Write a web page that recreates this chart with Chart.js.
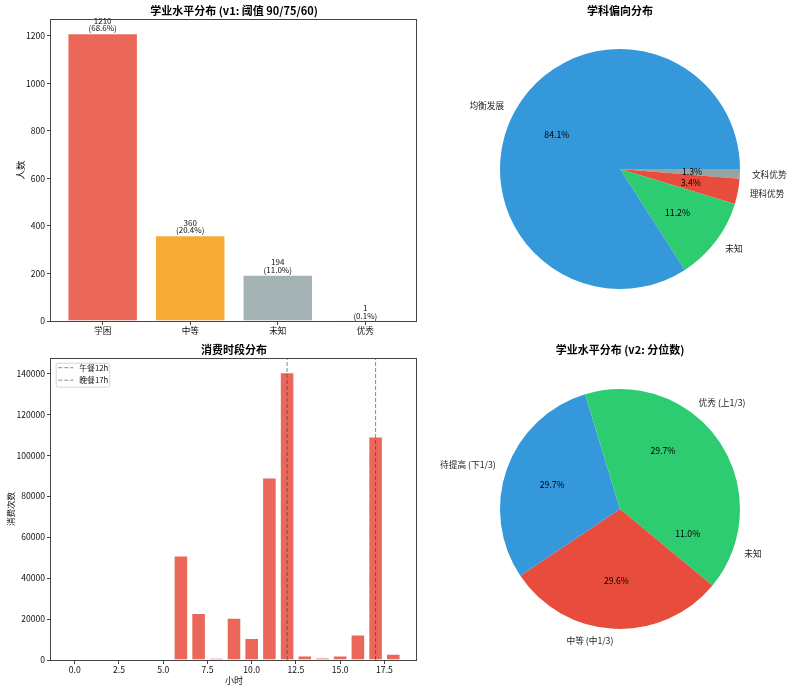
<!DOCTYPE html>
<html>
<head>
<meta charset="utf-8">
<script src="https://cdn.jsdelivr.net/npm/chart.js@4.4.1/dist/chart.umd.min.js"></script>
<style>
body { margin: 0; background: #fff; }
#wrap { position: relative; width: 792px; height: 692px; }
canvas { position: absolute; }
</style>
</head>
<body>
<div id="wrap">
  <canvas id="levelBar" width="420" height="340" style="left:0;top:0"></canvas>
  <canvas id="hourBar" width="420" height="352" style="left:0;top:340px"></canvas>
  <canvas id="biasPie" width="372" height="340" style="left:420px;top:0"></canvas>
  <canvas id="levelPie" width="372" height="352" style="left:420px;top:340px"></canvas>
</div>
<script>
// Data
const levelCats = ['学困', '中等', '未知', '优秀'];
const levelCounts = [1210, 360, 194, 1];
const levelColors = ['#e74c3c', '#f39c12', '#95a5a6', '#2ecc71'];
const levelYTicks = [0, 200, 400, 600, 800, 1000, 1200];

const hours = [0, 1, 2, 3, 4, 5, 6, 7, 8, 9, 10, 11, 12, 13, 14, 15, 16, 17, 18];
const hourCounts = [0, 0, 0, 0, 0, 0, 50900, 22900, 1000, 20500, 10700, 89100, 140500, 2100, 1100, 2100, 12400, 109100, 2900];
const hourXTicks = [0, 2.5, 5, 7.5, 10, 12.5, 15, 17.5];
const hourYTicks = [0, 20000, 40000, 60000, 80000, 100000, 120000, 140000];
const mealHours = [12, 17];
const mealLabels = ['午餐12h', '晚餐17h'];

const biasLabels = ['均衡发展', '未知', '理科优势', '文科优势'];
const biasPct = [84.1, 11.2, 3.4, 1.3];
const biasColors = ['#3498db', '#2ecc71', '#e74c3c', '#95a5a6'];

const quantLabels = ['优秀 (上1/3)', '待提高 (下1/3)', '中等 (中1/3)', '未知'];
const quantPct = [29.7, 29.7, 29.6, 11.0];
const quantColors = ['#2ecc71', '#3498db', '#e74c3c'];

const FONT = "'Noto Sans CJK SC', 'Noto Sans', sans-serif";
const TICK = 8.6;
Chart.defaults.font.family = FONT;
Chart.defaults.color = '#111';

function fade(hex, a) {
    const n = parseInt(hex.slice(1), 16);
    return `rgba(${n >> 16},${(n >> 8) & 255},${n & 255},${a})`;
}

// title centred over the plot area, like an axes title
const panelTitle = {
    id: 'panelTitle',
    afterDraw(chart, args, opts) {
        const { ctx, chartArea: a } = chart;
        ctx.save();
        ctx.font = `bold 11px ${FONT}`;
        ctx.fillStyle = '#000';
        ctx.textAlign = 'center';
        ctx.textBaseline = 'middle';
        ctx.fillText(opts.text, (a.left + a.right) / 2, opts.y);
        ctx.restore();
    }
};

// four spines
const frame = {
    id: 'frame',
    afterDraw(chart) {
        const { ctx, chartArea: a } = chart;
        ctx.save();
        ctx.strokeStyle = '#444';
        ctx.lineWidth = 1;
        ctx.strokeRect(Math.round(a.left) - 0.5, Math.round(a.top) + 0.5,
            Math.round(a.right - a.left), Math.round(a.bottom - a.top));
        ctx.restore();
    }
};

// value + percent above each bar
const barLabels = {
    id: 'barLabels',
    afterDatasetsDraw(chart) {
        const { ctx } = chart;
        const meta = chart.getDatasetMeta(0);
        const total = levelCounts.reduce((s, v) => s + v, 0);
        ctx.save();
        ctx.font = `8px ${FONT}`;
        ctx.fillStyle = '#111';
        ctx.textAlign = 'center';
        ctx.textBaseline = 'middle';
        meta.data.forEach((bar, i) => {
            const v = levelCounts[i];
            ctx.fillText(String(v), bar.x, bar.y - 12.6);
            ctx.fillText('(' + (v / total * 100).toFixed(1) + '%)', bar.x, bar.y - 5);
        });
        ctx.restore();
    }
};

// legend box inside upper-left corner
const insideLegend = {
    id: 'insideLegend',
    afterDraw(chart) {
        const { ctx, chartArea: a } = chart;
        const items = chart.data.datasets.filter(d => d.type === 'line');
        const x = a.left + 4.7, y = a.top + 4.7;
        ctx.save();
        ctx.fillStyle = 'rgba(255,255,255,0.8)';
        ctx.strokeStyle = '#d6d6d6';
        ctx.lineWidth = 1;
        ctx.beginPath();
        ctx.roundRect(x + 0.5, y + 0.5, 53.6, 24, 2);
        ctx.fill();
        ctx.stroke();
        ctx.font = `7.8px ${FONT}`;
        ctx.textBaseline = 'middle';
        items.forEach((d, i) => {
            const ly = y + 5 + i * 12.5;
            ctx.setLineDash(d.borderDash);
            ctx.strokeStyle = d.borderColor;
            ctx.beginPath();
            ctx.moveTo(x + 2.6, ly);
            ctx.lineTo(x + 17.6, ly);
            ctx.stroke();
            ctx.setLineDash([]);
            ctx.fillStyle = '#111';
            ctx.fillText(d.label, x + 23.6, ly);
        });
        ctx.restore();
    }
};

// matplotlib style pie labels: name outside, percent inside
const pieLabels = {
    id: 'pieLabels',
    afterDatasetsDraw(chart) {
        const { ctx } = chart;
        const data = chart.data.datasets[0].data;
        const total = data.reduce((s, v) => s + v, 0);
        const meta = chart.getDatasetMeta(0);
        ctx.save();
        ctx.font = `8.7px ${FONT}`;
        ctx.textBaseline = 'middle';
        meta.data.forEach((arc, i) => {
            const mid = (arc.startAngle + arc.endAngle) / 2;
            const r = arc.outerRadius;
            const c = Math.cos(mid), s = Math.sin(mid);
            ctx.fillStyle = '#222';
            ctx.textAlign = c > 0 ? 'left' : 'right';
            ctx.fillText(chart.data.labels[i], arc.x + c * r * 1.1, arc.y + s * r * 1.1);
            ctx.fillStyle = '#000';
            ctx.textAlign = 'center';
            ctx.fillText((data[i] / total * 100).toFixed(1) + '%', arc.x + c * r * 0.6, arc.y + s * r * 0.6);
        });
        ctx.restore();
    }
};

function tickGrid() {
    return { offset: false, drawOnChartArea: false, drawTicks: true, tickLength: 4, color: '#444', lineWidth: 1 };
}

// 1) academic level bars
const nCat = levelCats.length;
const catPad = 0.05 * (nCat - 1 + 0.8);
const levelYMax = Math.max(...levelCounts) * 1.05;

new Chart(document.getElementById('levelBar'), {
    type: 'bar',
    data: {
        datasets: [{
            data: levelCounts.map((v, i) => ({ x: i, y: v })),
            backgroundColor: levelColors.map(c => fade(c, 0.85)),
            borderColor: '#fff',
            borderWidth: 0.8,
            categoryPercentage: 1,
            barPercentage: 0.8
        }]
    },
    options: {
        responsive: false,
        animation: false,
        layout: { padding: { top: 19, right: 3, left: 0, bottom: 0 } },
        plugins: {
            legend: { display: false },
            tooltip: { enabled: false },
            panelTitle: { text: '学业水平分布 (v1: 阈值 90/75/60)', y: 11 }
        },
        scales: {
            x: {
                type: 'linear', offset: false,
                min: -0.4 - catPad, max: nCat - 1 + 0.4 + catPad,
                afterBuildTicks: s => { s.ticks = levelCats.map((_, i) => ({ value: i })); },
                afterFit: s => { s.height = 19; },
                ticks: { callback: v => levelCats[v], font: { size: TICK }, padding: 1, maxRotation: 0, autoSkip: false },
                grid: tickGrid(),
                border: { display: false }
            },
            y: {
                min: 0, max: levelYMax,
                afterBuildTicks: s => { s.ticks = levelYTicks.map(v => ({ value: v })); },
                afterFit: s => { s.width = 51; },
                ticks: { callback: v => String(v), font: { size: TICK }, padding: 2, autoSkip: false },
                grid: tickGrid(),
                border: { display: false },
                title: { display: true, text: '人数', font: { size: 9.5 }, padding: { top: 14.3, bottom: 0 } }
            }
        }
    },
    plugins: [panelTitle, frame, barLabels]
});

// 2) consumption by hour
const hSpan = hours[hours.length - 1] - hours[0] + 0.8;
const hourYMax = Math.max(...hourCounts) * 1.05;
const lineColor = 'rgba(44,62,80,0.6)';

new Chart(document.getElementById('hourBar'), {
    type: 'bar',
    data: {
        datasets: [
            {
                type: 'bar',
                order: 1,
                data: hours.map((h, i) => ({ x: h, y: hourCounts[i] })),
                backgroundColor: fade('#e74c3c', 0.85),
                borderColor: '#fff',
                borderWidth: 0.8,
                categoryPercentage: 1,
                barPercentage: 0.8
            },
            ...mealHours.map((h, i) => ({
                type: 'line',
                order: 0,
                label: mealLabels[i],
                data: [{ x: h, y: 0 }, { x: h, y: hourYMax }],
                borderColor: lineColor,
                borderWidth: 1,
                borderDash: [4, 2],
                pointRadius: 0
            }))
        ]
    },
    options: {
        responsive: false,
        animation: false,
        layout: { padding: { top: 18, right: 3, left: 0, bottom: 0 } },
        plugins: {
            legend: { display: false },
            tooltip: { enabled: false },
            panelTitle: { text: '消费时段分布', y: 9.5 }
        },
        scales: {
            x: {
                type: 'linear', offset: false,
                min: hours[0] - 0.4 - 0.05 * hSpan,
                max: hours[hours.length - 1] + 0.4 + 0.05 * hSpan,
                afterBuildTicks: s => { s.ticks = hourXTicks.map(v => ({ value: v })); },
                afterFit: s => { s.height = 32; },
                ticks: { callback: v => v.toFixed(1), font: { size: TICK }, padding: 1, maxRotation: 0, autoSkip: false },
                grid: tickGrid(),
                border: { display: false },
                title: { display: true, text: '小时', font: { size: 9 }, padding: { top: 0, bottom: 6 } }
            },
            y: {
                min: 0, max: hourYMax,
                afterBuildTicks: s => { s.ticks = hourYTicks.map(v => ({ value: v })); },
                afterFit: s => { s.width = 51; },
                ticks: { callback: v => String(v), font: { size: TICK }, padding: 2, autoSkip: false },
                grid: tickGrid(),
                border: { display: false },
                title: { display: true, text: '消费次数', font: { size: 8.5 }, padding: { top: 6, bottom: 0 } }
            }
        }
    },
    plugins: [panelTitle, frame, insideLegend]
});

// 3) + 4) pies: matplotlib goes counter-clockwise from 3 o'clock,
// so feed Chart.js the reversed order starting at 90 degrees
function pieChart(id, labels, values, colors, title, titleY, bottomPad) {
    const cols = labels.map((_, i) => colors[i % colors.length]);
    new Chart(document.getElementById(id), {
        type: 'pie',
        data: {
            labels: labels.slice().reverse(),
            datasets: [{
                data: values.slice().reverse(),
                backgroundColor: cols.slice().reverse(),
                borderWidth: 0
            }]
        },
        options: {
            responsive: false,
            animation: false,
            rotation: 90,
            layout: { padding: { left: 80, right: 52, top: 49, bottom: bottomPad } },
            plugins: {
                legend: { display: false },
                tooltip: { enabled: false },
                panelTitle: { text: title, y: titleY }
            }
        },
        plugins: [panelTitle, pieLabels]
    });
}

pieChart('biasPie', biasLabels, biasPct, biasColors, '学科偏向分布', 11, 51);
pieChart('levelPie', quantLabels, quantPct, quantColors, '学业水平分布 (v2: 分位数)', 10, 63);
</script>
</body>
</html>
